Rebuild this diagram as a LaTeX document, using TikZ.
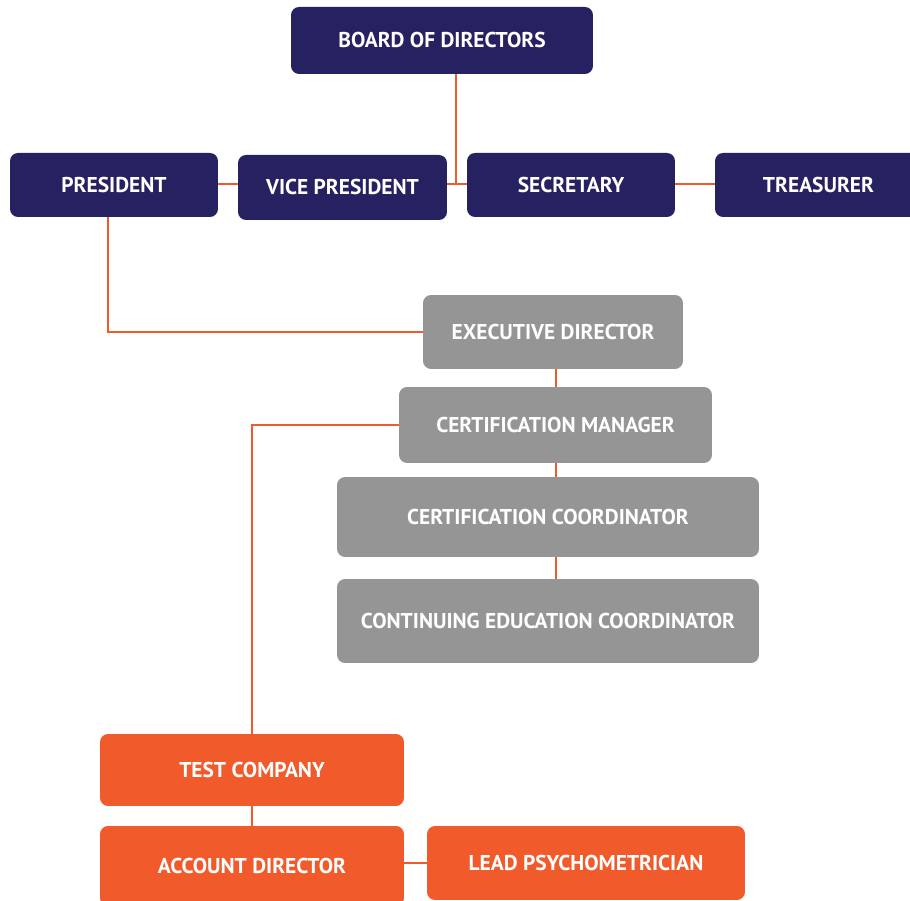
\documentclass[tikz,border=0pt]{standalone}
\usepackage{fontspec}
\setmainfont{PT Sans}
\usepackage{tikz}
\definecolor{navy}{HTML}{262262}
\definecolor{slate}{HTML}{959595}
\definecolor{flame}{HTML}{F15A2B}
\begin{document}
\begin{tikzpicture}[x=0.02cm,y=-0.02cm,
    box/.style={rounded corners=0.16cm,text=white,font=\bfseries\fontsize{12.2}{14}\selectfont,
      inner sep=0pt},
    board/.style={box,fill=navy},
    staff/.style={box,fill=slate},
    vendor/.style={box,fill=flame},
    link/.style={flame,line width=1.6pt}
    ]
  \useasboundingbox (0,0) rectangle (910,901);

  % board and officers
  \node[board,minimum width=6.04cm,minimum height=1.34cm] (bod)   at (442,40.5)  {BOARD OF DIRECTORS};
  \node[board,minimum width=4.16cm,minimum height=1.28cm] (pres)  at (114,185)   {PRESIDENT};
  \node[board,minimum width=4.18cm,minimum height=1.30cm] (vp)    at (342.5,187.5) {VICE PRESIDENT};
  \node[board,minimum width=4.16cm,minimum height=1.28cm] (sec)   at (571,185)   {SECRETARY};
  \node[board,minimum width=4.14cm,minimum height=1.28cm] (treas) at (818.5,185) {TREASURER};

  % staff
  \node[staff,minimum width=5.20cm,minimum height=1.48cm] (exec)  at (553,332)   {EXECUTIVE DIRECTOR};
  \node[staff,minimum width=6.26cm,minimum height=1.52cm] (cman)  at (555.5,425) {CERTIFICATION MANAGER};
  \node[staff,minimum width=8.44cm,minimum height=1.60cm] (ccoord) at (548,517)  {CERTIFICATION COORDINATOR};
  \node[staff,minimum width=8.44cm,minimum height=1.68cm] (ceco)  at (548,621)   {CONTINUING EDUCATION COORDINATOR};

  % test company
  \node[vendor,minimum width=6.08cm,minimum height=1.44cm] (testco) at (252,770) {TEST COMPANY};
  \node[vendor,minimum width=6.08cm,minimum height=1.60cm] (acct)   at (252,866) {ACCOUNT DIRECTOR};
  \node[vendor,minimum width=6.36cm,minimum height=1.48cm] (lead)   at (586,863) {LEAD PSYCHOMETRICIAN};

  % connectors
  \coordinate (hub) at (456,184);
  \coordinate (spine) at (556,0);
  \draw[link] (bod.south -| hub) -- (hub);
  \draw[link] (vp.east |- hub) -- (sec.west |- hub);
  \draw[link] (pres.east |- hub) -- (vp.west |- hub);
  \draw[link] (sec.east |- hub) -- (treas.west |- hub);
  \draw[link] (pres.south) ++(-6,0) |- (exec.west);
  \draw[link] (exec.south -| spine) -- (cman.north -| spine);
  \draw[link] (cman.south -| spine) -- (ccoord.north -| spine);
  \draw[link] (ccoord.south -| spine) -- (ceco.north -| spine);
  \draw[link] (cman.west) -| (testco.north);
  \draw[link] (testco.south) -- (acct.north);
  \draw[link] (lead.west -| acct.east) -- (lead.west);
\end{tikzpicture}
\end{document}
